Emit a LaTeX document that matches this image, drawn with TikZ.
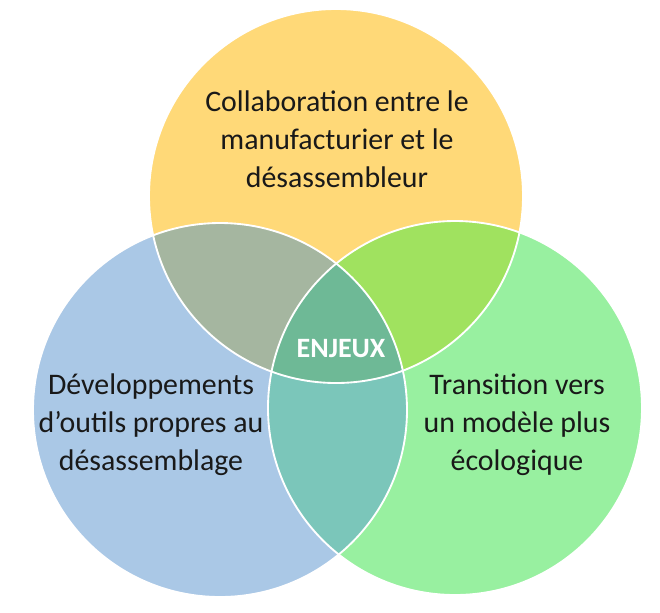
\documentclass[tikz,border=0pt]{standalone}
\usepackage{fontspec}
\setmainfont{Carlito}
\definecolor{cY}{HTML}{FFD978}
\definecolor{cB}{HTML}{AAC8E6}
\definecolor{cG}{HTML}{98F0A0}
\definecolor{cYB}{HTML}{A5B6A0}
\definecolor{cYG}{HTML}{A0E25F}
\definecolor{cBG}{HTML}{7BC6BA}
\definecolor{cC}{HTML}{6EB996}
\tikzset{
  label text/.style={align=center, text=black!90, font=\fontsize{22.4}{28.5}\selectfont},
  rim/.style={draw=white, line width=1.4pt}
}
\begin{document}
\begin{tikzpicture}[x=0.75pt,y=-0.75pt]
\useasboundingbox (0,0) rectangle (660,612);
\def\R{140.25pt}
\coordinate (cy) at (336,196);
\coordinate (cb) at (220,410);
\coordinate (cg) at (455,408);
% base circles
\fill[cY] (cy) circle[radius=\R];
\fill[cB] (cb) circle[radius=\R];
\fill[cG] (cg) circle[radius=\R];
% pairwise overlaps
\begin{scope}
  \clip (cy) circle[radius=\R];
  \fill[cYB] (cb) circle[radius=\R];
  \fill[cYG] (cg) circle[radius=\R];
\end{scope}
\begin{scope}
  \clip (cb) circle[radius=\R];
  \fill[cBG] (cg) circle[radius=\R];
  \clip (cg) circle[radius=\R];
  \fill[cC] (cy) circle[radius=\R];
\end{scope}
% outlines
\draw[rim] (cy) circle[radius=\R];
\draw[rim] (cb) circle[radius=\R];
\draw[rim] (cg) circle[radius=\R];
% texts
\node[label text] (ty) at (337,139) {Collaboration entre le\\manufacturier et le\\désassembleur};
\node[label text] (tb) at (151,425) {Développements\\d’outils propres au\\désassemblage};
\node[label text] (tg) at (517,425) {Transition vers\\un modèle plus\\écologique};
\node[font=\fontsize{21}{24}\selectfont\bfseries, text=white] (te) at (341,349) {ENJEUX};
\end{tikzpicture}
\end{document}
